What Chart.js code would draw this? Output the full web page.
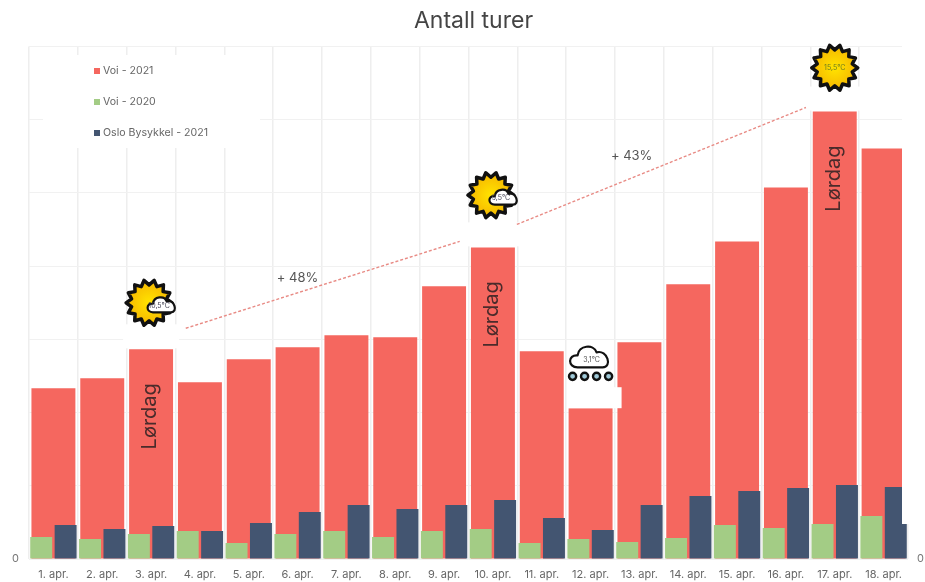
<!DOCTYPE html>
<html><head><meta charset="utf-8">
<style>html,body{margin:0;padding:0;background:#fff}#w{width:925px;height:582px}</style>
<script src="https://cdn.jsdelivr.net/npm/chart.js@4"></script></head>
<body><div id="w"><canvas id="c" width="925" height="582"></canvas></div>
<script>
const categories=['1. apr.','2. apr.','3. apr.','4. apr.','5. apr.','6. apr.','7. apr.','8. apr.','9. apr.','10. apr.','11. apr.','12. apr.','13. apr.','14. apr.','15. apr.','16. apr.','17. apr.','18. apr.'];
const voi2021=[2333,2470,2865,2415,2729,2893,3056,3029,3725,4257,2838,2060,2961,3752,4339,5076,6113,5608];
const voi2020=[300,273,341,382,218,341,382,300,382,409,218,273,232,287,464,423,478,587];
const oslo2021=[464,409,450,382,491,641,737,682,737,805,559,396,737,860,928,969,1010,982];
const seriesNames=['Voi - 2021','Voi - 2020','Oslo Bysykkel - 2021'];
const seriesColors=['#F5675F','#A3CC85','#435571'];
const saturdays=[2,9,16];
const trendLines=[{from:[2.71,3152],to:[8.32,4339],label:'+ 48%',at:[5.0,3834]},{from:[9.49,4571],to:[15.41,6168],label:'+ 43%',at:[11.84,5499]}];
const weather=[{i:2,v:3500,t:'10,5°C',k:'mix'},{i:9,v:4970,t:'9,5°C',k:'mix'},{i:16,v:6710,t:'15,5°C',k:'sun'},{i:11,v:2700,t:'3,1°C',k:'snow'}];
const FONT='Inter, "Noto Sans", sans-serif';

function burst(g,x,y,r,fill){
  g.beginPath();
  for(let k=0;k<28;k++){const a=k*Math.PI/14,R=k%2?r*0.78:r;g.lineTo(x+R*Math.cos(a),y+R*Math.sin(a));}
  g.closePath();g.fillStyle=fill;g.strokeStyle='#111';g.lineWidth=3.5;g.lineJoin='round';g.fill();g.stroke();
}
function cloud(g,x,y,s){
  g.beginPath();
  g.moveTo(x-14*s,y+9*s);
  g.bezierCurveTo(x-24*s,y+9*s,x-24*s,y-4*s,x-14*s,y-3*s);
  g.bezierCurveTo(x-13*s,y-13*s,x+2*s,y-15*s,x+5*s,y-6*s);
  g.bezierCurveTo(x+16*s,y-9*s,x+21*s,y+9*s,x+11*s,y+9*s);
  g.closePath();g.fillStyle='#fff';g.strokeStyle='#111';g.lineWidth=2.2;g.fill();g.stroke();
}
const overlay={id:'overlay',
 afterLayout(ch){ch.titleBlock.left+=11;ch.titleBlock.right+=11;},
 afterDraw(ch){
  const g=ch.ctx,x=ch.scales.x,y=ch.scales.y;
  g.save();
  g.fillStyle='#fff';
  g.fillRect(ch.chartArea.right-6,30,30,494);
  g.fillRect(43,55,217,93);
  for(const i of saturdays){const cx=x.getPixelForValue(i);const top=y.getPixelForValue(voi2021[i]);g.fillRect(cx-28,top-25,56,24);}
  const c12=x.getPixelForValue(11),t12=y.getPixelForValue(voi2021[11]);
  g.fillRect(c12-23,t12-21,54,21);
  g.strokeStyle='#E88A84';g.lineWidth=1.4;g.setLineDash([3,2]);
  g.fillStyle='#555';g.font='13px '+FONT;g.textAlign='center';g.textBaseline='middle';
  for(const t of trendLines){
    g.beginPath();g.moveTo(x.getPixelForValue(t.from[0]),y.getPixelForValue(t.from[1]));
    g.lineTo(x.getPixelForValue(t.to[0]),y.getPixelForValue(t.to[1]));g.stroke();
    g.fillText(t.label,x.getPixelForValue(t.at[0]),y.getPixelForValue(t.at[1]));
  }
  g.setLineDash([]);
  for(const i of saturdays){
    g.save();g.translate(x.getPixelForValue(i)-1,y.getPixelForValue(voi2021[i])+67);
    g.rotate(-Math.PI/2);g.fillStyle='#4a2b2b';g.font='20px '+FONT;g.fillText('Lørdag',0,0);g.restore();
  }
  const lx=97,ly=[71,102,133];
  seriesNames.forEach((n,k)=>{
    g.fillStyle=seriesColors[k];g.fillRect(lx-3,ly[k]-3,6,6);
    g.fillStyle='#666';g.font='10.6px '+FONT;g.textAlign='left';g.fillText(n,lx+6,ly[k]);
  });
  g.textAlign='center';
  for(const w of weather){
    const cx=x.getPixelForValue(w.i),cy=y.getPixelForValue(w.v);
    if(w.k==='snow'){
      for(const d of [-18,-6,6,18]){g.beginPath();g.arc(cx+d,cy+15,3.6,0,7);g.fillStyle='#9fc9d8';g.strokeStyle='#111';g.lineWidth=2.4;g.fill();g.stroke();}
      cloud(g,cx+1,cy-3,1);
      g.fillStyle='#555';g.font='7px '+FONT;g.fillText(w.t,cx+1,cy-1);
    }else{
      const gx=w.k==='mix'?cx-2:cx;
      const grd=g.createRadialGradient(gx,cy,2,gx,cy,22);grd.addColorStop(0,'#FFE000');grd.addColorStop(1,'#F6B800');
      burst(g,gx,cy,23,grd);
      if(w.k==='mix'){cloud(g,cx+12,cy+3,0.72);g.fillStyle='#445';g.font='7px '+FONT;g.fillText(w.t,cx+8,cy+3);}
      else{g.fillStyle='#6a7a20';g.font='7px '+FONT;g.fillText(w.t,cx,cy);}
    }
  }
  g.restore();
 }};
const tick0=v=>v===0?'0':'';
new Chart(document.getElementById('c'),{
 type:'bar',
 data:{labels:categories,datasets:[
  {label:seriesNames[1],data:voi2020,backgroundColor:seriesColors[1],order:1},
  {label:seriesNames[2],data:oslo2021,backgroundColor:seriesColors[2],order:1},
  {label:seriesNames[0],data:voi2021,backgroundColor:seriesColors[0],order:2,grouped:false}
 ]},
 plugins:[overlay],
 options:{responsive:false,animation:false,
  datasets:{bar:{barPercentage:0.9,categoryPercentage:1}},
  plugins:{legend:{display:false},tooltip:{enabled:false},
   title:{display:true,text:'Antall turer',color:'#444',font:{family:FONT,size:23,weight:'400'},padding:{top:7,bottom:12}}},
  scales:{
   x:{afterFit(s){s.height=23;},grid:{color:'#eeeeee',lineWidth:1.5,drawTicks:false},border:{display:false},
      ticks:{color:'#666',font:{family:FONT,size:11},padding:9,maxRotation:0,autoSkip:false}},
   y:{min:0,max:7000,position:'left',afterFit(s){s.width=29;},
      grid:{color:'#f1f1f1',lineWidth:1,drawTicks:false},border:{display:false},
      ticks:{stepSize:1000,callback:tick0,color:'#777',font:{family:FONT,size:11},padding:10}},
   y2:{min:0,max:7000,position:'right',afterFit(s){s.width=17;},
      grid:{display:false},border:{display:false},
      ticks:{stepSize:1000,callback:tick0,color:'#777',font:{family:FONT,size:11},padding:1}}
  }}
});
</script></body></html>
